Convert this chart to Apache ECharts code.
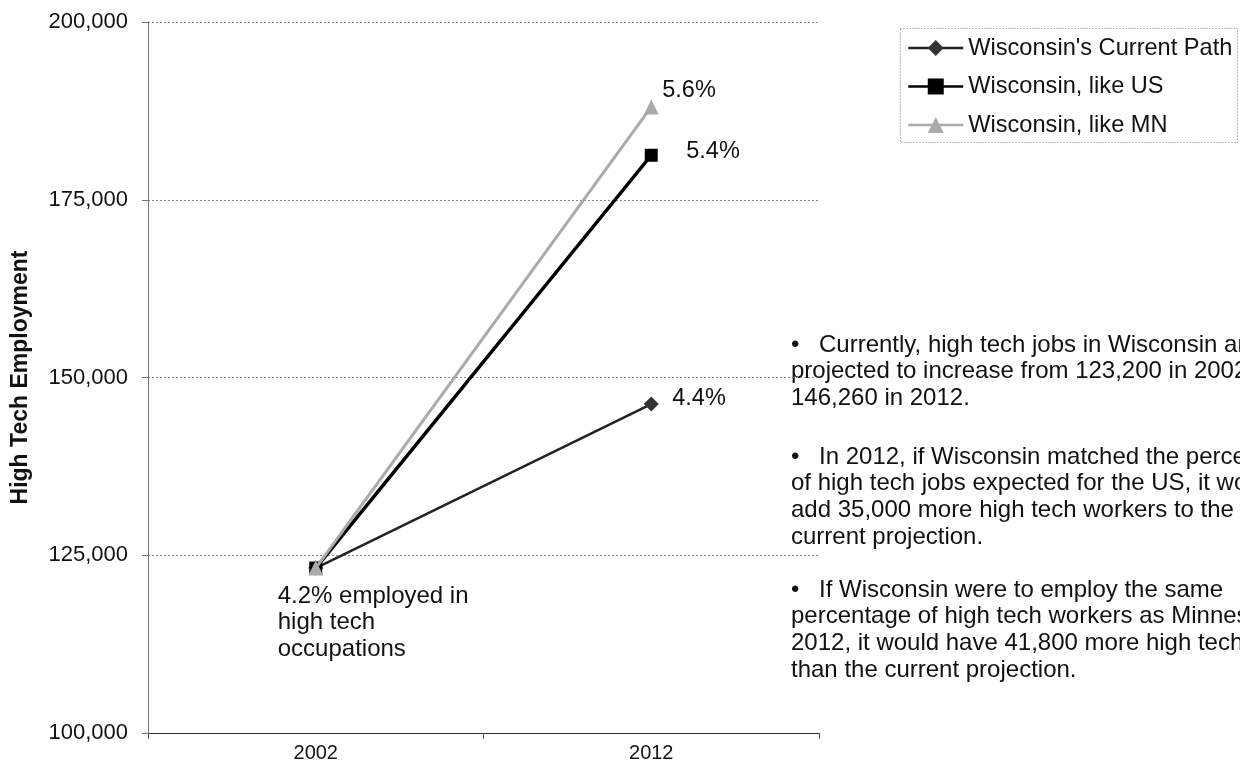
<!DOCTYPE html>
<html>
<head>
<meta charset="utf-8">
<script src="https://cdn.jsdelivr.net/npm/echarts@6/dist/echarts.min.js"></script>
<style>
html,body{margin:0;padding:0;background:#fff;}
#c{width:1240px;height:778px;}
</style>
</head>
<body>
<div id="c"></div>
<script>
// ---- data ----
const categories = ['2002', '2012'];
const seriesNames = ["Wisconsin's Current Path", 'Wisconsin, like US', 'Wisconsin, like MN'];
const currentPath = [123200, 146260];
const likeUS = [123200, 181260];
const likeMN = [123200, 188060];
const currentLabels = ['4.2% employed in\nhigh tech\noccupations', '4.4%'];
const usLabels = ['', '5.4%'];
const mnLabels = ['', '5.6%'];
const yMin = 100000, yMax = 200000, yStep = 25000;
const yAxisTitle = 'High Tech Employment';
const para1 = ['Currently, high tech jobs in Wisconsin are', 'projected to increase from 123,200 in 2002 to', '146,260 in 2012.'];
const para2 = ['In 2012, if Wisconsin matched the percentage', 'of high tech jobs expected for the US, it would', 'add 35,000 more high tech workers to the', 'current projection.'];
const para3 = ['If Wisconsin were to employ the same', 'percentage of high tech workers as Minnesota in', '2012, it would have 41,800 more high tech workers', 'than the current projection.'];

// ---- styling ----
const FONT = '"Liberation Sans", Arial, sans-serif';
const baseLabel = {
  show: true, position: 'inside', align: 'left', verticalAlign: 'middle',
  fontFamily: FONT, fontSize: 23.5, color: '#111'
};
function buildData(vals, labels, offsets, extra) {
  return vals.map((v, i) => {
    if (!labels[i]) return { value: v, label: { show: false } };
    return {
      value: v,
      label: Object.assign({}, baseLabel, { formatter: labels[i], offset: offsets[i] }, (extra && extra[i]) || {})
    };
  });
}

const chart = echarts.init(document.getElementById('c'), null, { renderer: 'canvas' });

const PFONT = '24px ' + FONT;
function paragraph(lines, yFirst, step) {
  const els = [];
  els.push({ type: 'text', x: 791, y: yFirst, style: { text: '\u2022', font: PFONT, fill: '#111', verticalAlign: 'middle' } });
  els.push({ type: 'text', x: 819, y: yFirst, style: { text: lines[0], font: PFONT, fill: '#111', verticalAlign: 'middle' } });
  els.push({ type: 'text', x: 791, y: yFirst + step / 2, style: { text: lines.slice(1).join('\n'), font: PFONT, fill: '#111', verticalAlign: 'top', lineHeight: step } });
  return els;
}

const graphics = [
  { type: 'rect', shape: { x: 900.5, y: 28.5, width: 337, height: 114 }, style: { fill: 'none', stroke: '#777', lineWidth: 1, lineDash: [1, 2] }, z: 0 }
].concat(paragraph(para1, 345, 26.6), paragraph(para2, 457, 26.7), paragraph(para3, 590, 26.7));

const option = {
  animation: false,
  backgroundColor: '#ffffff',
  grid: { left: 148, right: 421, top: 22, bottom: 45 },
  legend: {
    orient: 'vertical', left: 907, top: 36, itemWidth: 55, itemHeight: 20, itemGap: 14.5,
    padding: 0,
    lineStyle: { width: 2.5 },
    textStyle: { fontFamily: FONT, fontSize: 23.6, color: '#111' },
    data: seriesNames
  },
  xAxis: {
    type: 'category', data: categories, boundaryGap: true,
    axisLine: { lineStyle: { color: '#333', width: 1 } },
    axisTick: { show: true, length: 6, lineStyle: { color: '#555' } },
    axisLabel: { fontFamily: FONT, fontSize: 20, color: '#111', margin: 10 }
  },
  yAxis: {
    type: 'value', min: yMin, max: yMax, interval: yStep,
    name: yAxisTitle, nameLocation: 'middle', nameRotate: 90, nameGap: 116,
    nameTextStyle: { fontFamily: FONT, fontSize: 23, fontWeight: 'bold', color: '#111' },
    axisLine: { show: true, lineStyle: { color: '#777', width: 1 } },
    axisTick: { show: true, length: 6, lineStyle: { color: '#777' } },
    axisLabel: {
      fontFamily: FONT, fontSize: 22, color: '#111', margin: 20,
      formatter: v => v.toLocaleString('en-US')
    },
    splitLine: { show: true, lineStyle: { color: '#888', type: [2, 2], width: 1 } }
  },
  series: [
    {
      name: seriesNames[0], type: 'line', data: buildData(currentPath, currentLabels, [[-38, 15], [21, -6]], [{ verticalAlign: 'top', lineHeight: 26.5, fontSize: 24 }, null]),
      symbol: 'diamond', symbolSize: 15,
      lineStyle: { color: '#222', width: 2.5 }, itemStyle: { color: '#333' }, z: 3
    },
    {
      name: seriesNames[1], type: 'line', data: buildData(likeUS, usLabels, [null, [35, -4]]),
      symbol: 'rect', symbolSize: 13,
      lineStyle: { color: '#000', width: 3.5 }, itemStyle: { color: '#000' }, z: 4
    },
    {
      name: seriesNames[2], type: 'line', data: buildData(likeMN, mnLabels, [null, [11, -16]]),
      symbol: 'triangle', symbolSize: 15,
      lineStyle: { color: '#aaa', width: 3 }, itemStyle: { color: '#aaa' }, z: 5
    }
  ],
  graphic: graphics
};
chart.setOption(option);
</script>
</body>
</html>
